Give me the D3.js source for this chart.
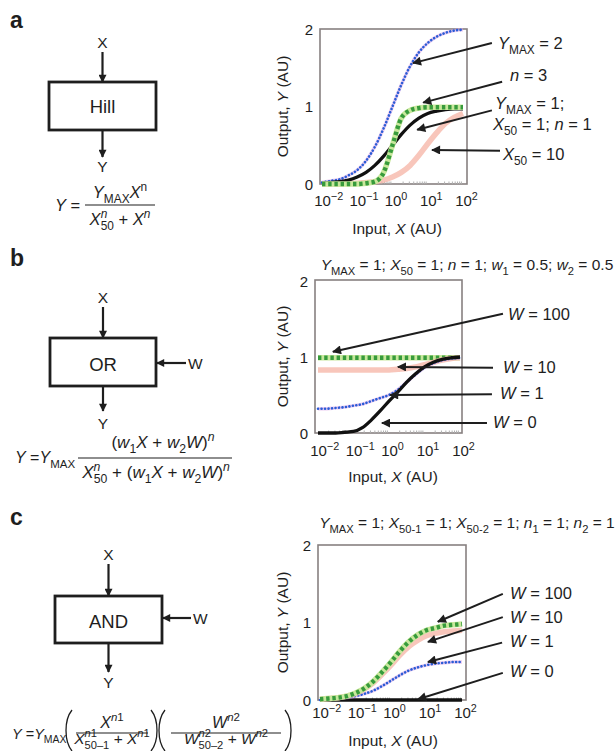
<!DOCTYPE html>
<html>
<head>
<meta charset="utf-8">
<script src="https://cdn.jsdelivr.net/npm/d3@7"></script>
<style>
  body { margin: 0; background: #fff; }
  svg { display: block; font-family: "Liberation Sans", Arial, sans-serif; }
</style>
</head>
<body>
<svg id="fig" width="616" height="751"></svg>
<script>
// input samples, quarter decades from 10^-2 to 10^2
var xs = [0.01, 0.0178, 0.0316, 0.0562, 0.1, 0.178, 0.316, 0.562, 1, 1.78, 3.16, 5.62, 10, 17.8, 31.6, 56.2, 100];
var xTicks = [0.01, 0.1, 1, 10, 100];
var xTickExp = ["\u22122", "\u22121", "0", "1", "2"];
var yTicks = [0, 1, 2];

// a: Hill function
var hillBase  = [0.01, 0.02, 0.03, 0.05, 0.09, 0.15, 0.24, 0.36, 0.50, 0.64, 0.76, 0.85, 0.91, 0.94, 0.96, 0.97, 0.97];
var hillYmax2 = [0.02, 0.04, 0.06, 0.11, 0.18, 0.30, 0.48, 0.72, 1.00, 1.28, 1.52, 1.70, 1.82, 1.90, 1.95, 1.98, 1.99];
var hillN3    = [0, 0, 0, 0, 0, 0.01, 0.03, 0.15, 0.50, 0.85, 0.95, 0.98, 0.99, 0.99, 0.99, 0.99, 0.99];
var hillX50   = [0, 0, 0, 0.01, 0.01, 0.02, 0.03, 0.05, 0.09, 0.15, 0.24, 0.37, 0.52, 0.66, 0.78, 0.86, 0.91];

// b: OR gate
var orW0   = [0, 0, 0, 0.01, 0.02, 0.07, 0.17, 0.29, 0.42, 0.54, 0.67, 0.78, 0.87, 0.93, 0.97, 0.99, 1.0];
var orW1   = [0.32, 0.32, 0.33, 0.34, 0.36, 0.38, 0.42, 0.46, 0.50, 0.57, 0.67, 0.77, 0.86, 0.92, 0.96, 0.98, 0.99];
var orW10  = [0.83, 0.83, 0.83, 0.83, 0.83, 0.83, 0.83, 0.83, 0.83, 0.84, 0.85, 0.87, 0.90, 0.93, 0.96, 0.98, 0.99];
var orW100 = [0.99, 0.99, 0.99, 0.99, 0.99, 0.99, 0.99, 0.99, 0.99, 0.99, 0.99, 0.99, 0.99, 0.99, 0.99, 0.99, 0.99];

// c: AND gate
var andW0   = [0, 0, 0, 0, 0, 0, 0, 0, 0, 0, 0, 0, 0, 0, 0, 0, 0];
var andW1   = [0, 0.01, 0.02, 0.03, 0.05, 0.08, 0.12, 0.18, 0.25, 0.32, 0.38, 0.42, 0.45, 0.47, 0.48, 0.49, 0.49];
var andW10  = [0.01, 0.02, 0.03, 0.05, 0.08, 0.14, 0.22, 0.33, 0.45, 0.58, 0.69, 0.77, 0.83, 0.86, 0.88, 0.89, 0.90];
var andW100 = [0.01, 0.02, 0.03, 0.05, 0.09, 0.15, 0.24, 0.36, 0.49, 0.63, 0.75, 0.84, 0.90, 0.93, 0.96, 0.97, 0.98];

var INK = "#1e1e1e";
var TICK = 15;
var svg = d3.select("#fig");

var defs = svg.append("defs");
function marker(id, w, h) {
  defs.append("marker")
    .attr("id", id)
    .attr("viewBox", "0 0 10 10")
    .attr("refX", 9).attr("refY", 5)
    .attr("markerUnits", "userSpaceOnUse")
    .attr("markerWidth", w).attr("markerHeight", h)
    .attr("orient", "auto")
    .append("path").attr("d", "M0,0 L10,5 L0,10 z").attr("fill", INK);
}
marker("ah", 13, 9);
marker("dh", 10, 8);

// text with italic / sub / sup pieces
function rich(text, parts, size) {
  var shift = 0;
  parts.forEach(function(p) {
    var s = p[1] || "";
    var t = text.append("tspan").text(p[0]);
    var target = 0, fs = size;
    if (s.indexOf("sub") >= 0) { target = size * 0.3; fs = size * 0.72; }
    if (s.indexOf("sup") >= 0) { target = -size * 0.42; fs = size * 0.72; }
    if (s.indexOf("it") >= 0) t.attr("font-style", "italic");
    if (target !== shift) t.attr("dy", target - shift);
    shift = target;
    if (fs !== size) t.attr("font-size", fs);
    if (p[2]) t.attr("dx", p[2]);
  });
  return text;
}

function label(x, y, parts, size, anchor, g) {
  var t = (g || svg).append("text")
    .attr("x", x).attr("y", y)
    .attr("font-size", size)
    .attr("fill", INK)
    .attr("text-anchor", anchor || "start");
  return rich(t, parts, size);
}

function drawSeries(g, x, y, vals, style) {
  var pts = xs.map(function(v, i) { return [v, vals[i]]; });
  var d = d3.line()
    .x(function(p) { return x(p[0]); })
    .y(function(p) { return y(p[1]); })
    .curve(d3.curveMonotoneX)(pts);
  function path(stroke, w, extra) {
    var p = g.append("path").attr("d", d).attr("fill", "none")
      .attr("stroke", stroke).attr("stroke-width", w)
      .attr("stroke-linejoin", "round");
    if (extra) extra(p);
  }
  if (style === "pink") {
    path("#f5b3a4", 5.5, function(p) { p.attr("stroke-opacity", 0.75); });
  } else if (style === "black") {
    path("#111", 3.3);
  } else if (style === "blue") {
    path("#dca6e6", 3.4, function(p) { p.attr("stroke-opacity", 0.55); });
    path("#2a5cd6", 2.6, function(p) {
      p.attr("stroke-dasharray", "0.1 3.4").attr("stroke-linecap", "round");
    });
  } else if (style === "green") {
    path("#c8e89c", 5.5);
    path("#379b3c", 4.4, function(p) { p.attr("stroke-dasharray", "3.4 2.8"); });
  }
}

function drawPlot(cfg) {
  var g = svg.append("g");
  var f = cfg.frame; // [x0, x1, y0, y1]
  var x = d3.scaleLog().domain([0.01, 100]).range(cfg.xr);
  var y = d3.scaleLinear().domain([0, 2]).range(cfg.yr);

  g.append("rect")
    .attr("x", f[0]).attr("y", f[2])
    .attr("width", f[1] - f[0]).attr("height", f[3] - f[2])
    .attr("fill", "#fff").attr("stroke", "#878080").attr("stroke-width", 1.6);

  // faint minor ticks along the bottom
  var minor = [];
  [0.01, 0.1, 1, 10].forEach(function(b) {
    for (var k = 2; k <= 9; k++) minor.push(b * k);
  });
  g.selectAll("line.minor").data(minor).enter().append("line")
    .attr("x1", function(d) { return x(d); }).attr("x2", function(d) { return x(d); })
    .attr("y1", f[3] - 2.5).attr("y2", f[3])
    .attr("stroke", "#b0b0b0").attr("stroke-width", 1);

  cfg.series.forEach(function(s) { drawSeries(g, x, y, s[0], s[1]); });

  // x axis: 10^k labels, the "10" centred on the tick
  var xa = g.append("g")
    .attr("transform", "translate(0," + cfg.xTickY + ")")
    .call(d3.axisBottom(x).tickValues(xTicks).tickSize(0).tickPadding(0).tickFormat(""));
  xa.select(".domain").remove();
  xa.attr("font-family", null).attr("font-size", TICK);
  xa.selectAll(".tick text").each(function(d, i) {
    var t = d3.select(this)
      .attr("fill", INK).attr("text-anchor", "start")
      .attr("x", -TICK * 0.556).attr("y", 0).attr("dy", 0);
    rich(t, [["10", ""], [xTickExp[i], "sup"]], TICK);
  });

  // y axis
  var ya = g.append("g")
    .attr("transform", "translate(" + f[0] + ",0)")
    .call(d3.axisLeft(y).tickValues(yTicks).tickSize(0).tickPadding(7).tickFormat(d3.format("d")));
  ya.select(".domain").remove();
  ya.attr("font-family", null).attr("font-size", TICK);
  ya.selectAll(".tick text").attr("fill", INK).attr("dy", "0.36em");

  label(cfg.xLabel[0], cfg.xLabel[1], [["Input, ", ""], ["X", "it"], [" (AU)", ""]], 15.5, "middle", g);
  var yl = g.append("text")
    .attr("transform", "translate(288," + ((f[2] + f[3]) / 2) + ") rotate(-90)")
    .attr("font-size", 15.5).attr("fill", INK).attr("text-anchor", "middle");
  rich(yl, [["Output, ", ""], ["Y", "it"], [" (AU)", ""]], 15.5);

  if (cfg.title) label(cfg.title.x, cfg.title.y, cfg.title.parts, 15.5, "middle", g);

  cfg.notes.forEach(function(n) {
    g.append("line")
      .attr("x1", x(Math.pow(10, n.tail[0]))).attr("y1", y(n.tail[1]))
      .attr("x2", x(Math.pow(10, n.tip[0]))).attr("y2", y(n.tip[1]))
      .attr("stroke", INK).attr("stroke-width", 2)
      .attr("marker-end", "url(#ah)");
    n.lines.forEach(function(l) { label(l[0], l[1], l[2], 16.5, "start", g); });
  });
}

// ---- gate diagrams ----
function arrow(x1, y1, x2, y2) {
  svg.append("line")
    .attr("x1", x1).attr("y1", y1).attr("x2", x2).attr("y2", y2)
    .attr("stroke", INK).attr("stroke-width", 2.2)
    .attr("marker-end", "url(#dh)");
}
function gate(cfg) {
  svg.append("text").attr("x", cfg.letter[0]).attr("y", cfg.letter[1])
    .attr("font-size", 23).attr("font-weight", "bold").attr("fill", INK).text(cfg.letter[2]);
  var b = cfg.box, cx = (b[0] + b[2]) / 2;
  label(cx, cfg.xY, [["X", ""]], 15.5, "middle");
  arrow(cx, cfg.xY + 4, cx, b[1]);
  svg.append("rect").attr("x", b[0]).attr("y", b[1])
    .attr("width", b[2] - b[0]).attr("height", b[3] - b[1])
    .attr("fill", "#fff").attr("stroke", INK).attr("stroke-width", 2.8);
  label(cx, cfg.nameY, [[cfg.name, ""]], 18.5, "middle");
  arrow(cx, b[3], cx, cfg.yArrow);
  label(cx, cfg.yY, [["Y", ""]], 15.5, "middle");
  if (cfg.w) {
    arrow(cfg.w[0], cfg.w[2], b[2] + 1, cfg.w[2]);
    label(cfg.w[0] + 2, cfg.w[2] + 5.5, [["W", ""]], 15.5, "start");
  }
}
function hline(x0, x1, y) {
  svg.append("line").attr("x1", x0).attr("x2", x1).attr("y1", y).attr("y2", y)
    .attr("stroke", INK).attr("stroke-width", 1.2);
}
function paren(x, y0, y1, dir) {
  var b = dir * 8;
  svg.append("path")
    .attr("d", "M" + x + "," + y0 + " C" + (x - b) + "," + (y0 + 10) + " " + (x - b) + "," + (y1 - 10) + " " + x + "," + y1)
    .attr("fill", "none").attr("stroke", INK).attr("stroke-width", 1.3);
}

// panel a
gate({ letter: [10, 28, "a"], box: [49, 82, 156, 130], xY: 48, name: "Hill", nameY: 113, yArrow: 157, yY: 172 });
label(55, 211, [["Y", "it"], [" =", ""]], 16.5);
hline(85, 155, 205);
label(120, 198, [["Y", "it"], ["MAX", "sub"], ["X", "it"], ["n", "sup"]], 16.5, "middle");
label(120, 225, [["X", "it"], ["n", "it sup"], ["50", "sub", -6.5], [" + ", ""], ["X", "it"], ["n", "it sup"]], 16.5, "middle");

drawPlot({
  frame: [320, 467, 29, 184], xr: [322, 463], yr: [184, 29],
  xTickY: 206, xLabel: [397, 234],
  series: [[hillX50, "pink"], [hillYmax2, "blue"], [hillBase, "black"], [hillN3, "green"]],
  notes: [
    { tail: [2.82, 1.82], tip: [0.58, 1.56], lines: [[498, 49, [["Y", "it"], ["MAX", "sub"], [" = 2", ""]]]] },
    { tail: [3.11, 1.32], tip: [0.87, 1.05], lines: [[510, 81, [["n", "it"], [" = 3", ""]]]] },
    { tail: [2.82, 0.95], tip: [0.70, 0.70], lines: [
      [495, 109, [["Y", "it"], ["MAX", "sub"], [" = 1;", ""]]],
      [493, 130, [["X", "it"], ["50", "sub"], [" = 1; ", ""], ["n", "it"], [" = 1", ""]]]] },
    { tail: [3.05, 0.43], tip: [1.12, 0.44], lines: [[503, 160, [["X", "it"], ["50", "sub"], [" = 10", ""]]]] }
  ]
});

// panel b
gate({ letter: [10, 266, "b"], box: [50, 338, 156, 386], xY: 303, name: "OR", nameY: 371, yArrow: 411, yY: 429, w: [186, 0, 363] });
label(15, 463, [["Y", "it"], [" =", ""], ["Y", "it"], ["MAX", "sub"]], 16);
hline(78, 232, 458);
label(163, 448, [["(", ""], ["w", "it"], ["1", "sub"], ["X", "it"], [" + ", ""], ["w", "it"], ["2", "sub"], ["W", "it"], [")", ""], ["n", "it sup"]], 17, "middle");
label(156, 478, [["X", "it"], ["n", "it sup"], ["50", "sub", -6.5], [" + (", ""], ["w", "it"], ["1", "sub"], ["X", "it"], [" + ", ""], ["w", "it"], ["2", "sub"], ["W", "it"], [")", ""], ["n", "it sup"]], 17, "middle");

drawPlot({
  frame: [315, 462, 280, 433], xr: [318, 460], yr: [433, 281],
  xTickY: 456, xLabel: [393, 482],
  title: { x: 467, y: 270, parts: [["Y", "it"], ["MAX", "sub"], [" = 1; ", ""], ["X", "it"], ["50", "sub"], [" = 1; ", ""], ["n", "it"], [" = 1; ", ""], ["w", "it"], ["1", "sub"], [" = 0.5; ", ""], ["w", "it"], ["2", "sub"], [" = 0.5", ""]] },
  series: [[orW100, "green"], [orW10, "pink"], [orW1, "blue"], [orW0, "black"]],
  notes: [
    { tail: [3.21, 1.57], tip: [-1.58, 1.07], lines: [[508, 320, [["W", "it"], [" = 100", ""]]]] },
    { tail: [2.93, 0.86], tip: [0.25, 0.87], lines: [[503, 373, [["W", "it"], [" = 10", ""]]]] },
    { tail: [2.90, 0.51], tip: [0.03, 0.50], lines: [[500, 399, [["W", "it"], [" = 1", ""]]]] },
    { tail: [2.76, 0.13], tip: [-0.20, 0.13], lines: [[493, 428, [["W", "it"], [" = 0", ""]]]] }
  ]
});

// panel c
gate({ letter: [10, 525, "c"], box: [55, 596, 162, 643], xY: 560, name: "AND", nameY: 628, yArrow: 672, yY: 688, w: [191, 0, 618] });
label(12, 739, [["Y", "it"], [" =", ""], ["Y", "it"], ["MAX", "sub"]], 14.5);
paren(72, 710, 751, 1); paren(151, 710, 751, -1);
paren(165, 710, 751, 1); paren(285, 710, 751, -1);
hline(76, 148, 733);
hline(171, 281, 733);
label(112, 728, [["X", "it"], ["n", "it sup"], ["1", "sup"]], 16, "middle");
label(112, 744, [["X", "it"], ["n", "it sup"], ["1", "sup"], ["50\u20131", "sub", -12.5], [" + ", ""], ["X", "it"], ["n", "it sup"], ["1", "sup"]], 15.5, "middle");
label(226, 728, [["W", "it"], ["n", "it sup"], ["2", "sup"]], 16, "middle");
label(226, 744, [["W", "it"], ["n", "it sup"], ["2", "sup"], ["50\u20132", "sub", -12.5], [" + ", ""], ["W", "it"], ["n", "it sup"], ["2", "sup"]], 15.5, "middle");

drawPlot({
  frame: [318, 466, 545, 700], xr: [320, 462], yr: [700, 545],
  xTickY: 718, xLabel: [393, 746],
  title: { x: 467, y: 528, parts: [["Y", "it"], ["MAX", "sub"], [" = 1; ", ""], ["X", "it"], ["50-1", "sub"], [" = 1; ", ""], ["X", "it"], ["50-2", "sub"], [" = 1; ", ""], ["n", "it"], ["1", "sub"], [" = 1; ", ""], ["n", "it"], ["2", "sub"], [" = 1", ""]] },
  series: [[andW0, "black"], [andW1, "blue"], [andW10, "pink"], [andW100, "green"]],
  notes: [
    { tail: [3.15, 1.37], tip: [1.32, 1.01], lines: [[510, 599, [["W", "it"], [" = 100", ""]]]] },
    { tail: [3.15, 1.07], tip: [1.04, 0.75], lines: [[510, 623, [["W", "it"], [" = 10", ""]]]] },
    { tail: [3.13, 0.74], tip: [1.04, 0.49], lines: [[510, 647, [["W", "it"], [" = 1", ""]]]] },
    { tail: [3.15, 0.35], tip: [0.76, 0.01], lines: [[510, 677, [["W", "it"], [" = 0", ""]]]] }
  ]
});
</script>
</body>
</html>
